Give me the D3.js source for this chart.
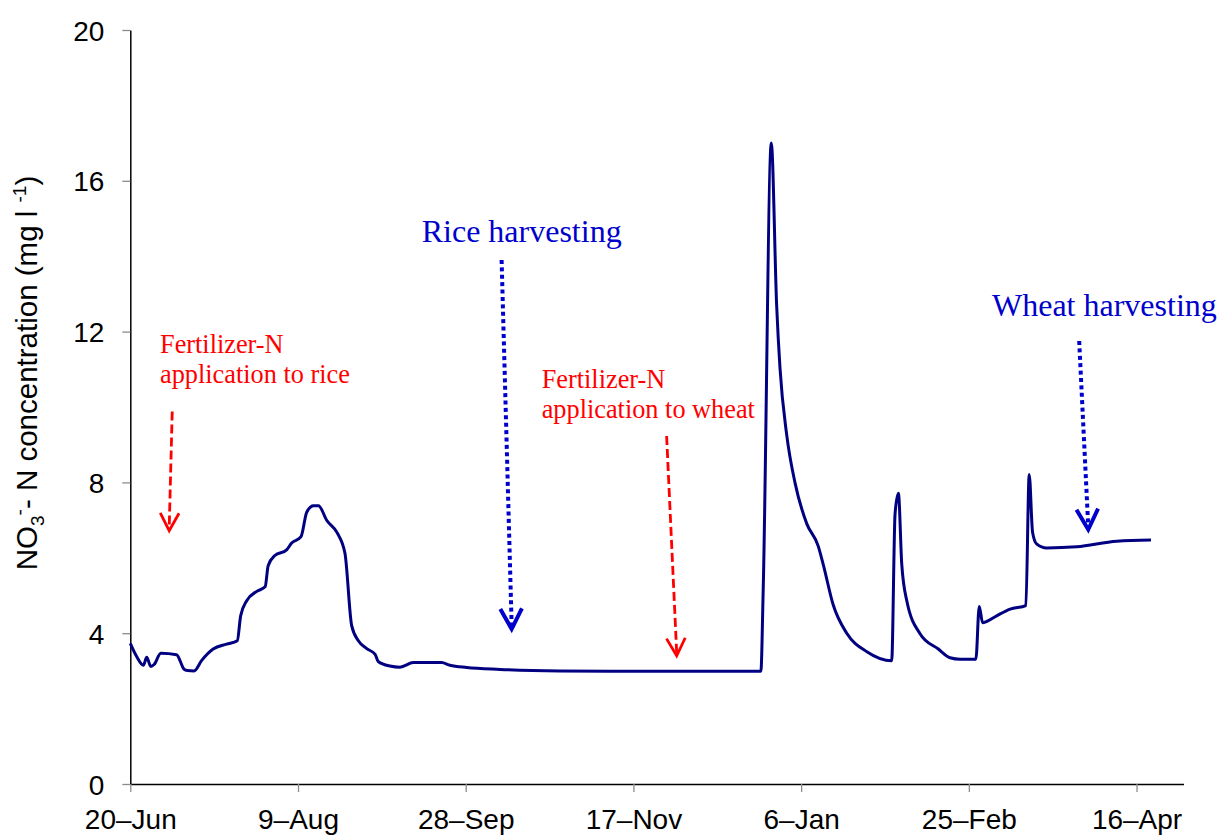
<!DOCTYPE html>
<html>
<head>
<meta charset="utf-8">
<script src="https://cdn.jsdelivr.net/npm/d3@7"></script>
<style>
  body { margin: 0; background: #fff; }
  svg { display: block; }
</style>
</head>
<body>
<svg id="chart" width="1218" height="835"></svg>
<script>
// Nitrate-N concentration in leachate over a rice–wheat season
const seasonStart = Date.UTC(2009, 5, 20);   // 20 June
const seasonEnd = Date.UTC(2010, 3, 30);     // end of April

// Days after 20 June for each observation
const dayOffsets = [
  0, 1.9, 3.9, 4.9, 6.1, 7.1, 9.1, 13.8, 16.0, 17.0, 19.0, 21.3, 24.7, 28.7, 31.9,
  32.9, 34.7, 37.7, 40.2, 41.1, 43.1, 46.6, 48.1, 50.9, 52.6, 54.6, 56.1, 58.6,
  61.7, 64.0, 66.0, 68.0, 70.5, 73.0, 73.9, 77.4, 80.4, 84.4, 92.8, 95.3, 100.3,
  110.2, 128.1, 149.9, 188.0, 188.7, 191.1, 192.7, 193.7, 195.7, 198.2, 201.7,
  205.1, 206.6, 209.6, 213.6, 219.6, 227.0, 228.0, 229.0, 230.0, 231.5, 235.5,
  240.9, 244.4, 247.4, 252.1, 253.1, 254.1, 255.3, 258.3, 262.3, 267.0, 268.0,
  269.0, 270.2, 273.2, 282.2, 294.1, 304.3
];

// NO3- - N concentration (mg l-1)
const no3N = [
  3.73, 3.38, 3.15, 3.36, 3.12, 3.17, 3.47, 3.43, 3.05, 3.01, 3.00, 3.28, 3.58, 3.71, 3.80,
  4.46, 4.86, 5.11, 5.23, 5.79, 6.06, 6.21, 6.39, 6.56, 7.21, 7.38, 7.38, 6.99,
  6.66, 6.12, 4.20, 3.80, 3.59, 3.44, 3.25, 3.13, 3.10, 3.22, 3.22, 3.15, 3.09,
  3.04, 3.00, 2.99, 2.99, 5.18, 17.0, 12.70, 11.03, 9.26, 7.98, 6.90,
  6.31, 5.82, 4.74, 4.00, 3.51, 3.27, 7.16, 7.71, 5.83, 4.86, 3.98,
  3.58, 3.35, 3.31, 3.31, 4.71, 4.28, 4.31, 4.46, 4.64, 4.73, 8.21,
  6.68, 6.37, 6.26, 6.29, 6.44, 6.47
];

const xTickOffsets = [0, 50, 100, 150, 200, 250, 300];
const xTickLabels = ["20\u2013Jun", "9\u2013Aug", "28\u2013Sep", "17\u2013Nov", "6\u2013Jan", "25\u2013Feb", "16\u2013Apr"];
const yTicks = [0, 4, 8, 12, 16, 20];

// Field operations: label lines, arrow top and tip as [day, concentration]
const eventLabels = [
  { lines: ["Fertilizer-N", "application to rice"], from: [12.5, 9.88], to: [11.6, 6.72], kind: "fert" },
  { lines: ["Rice harvesting"], from: [110.7, 13.9], to: [113.7, 4.11], kind: "harvest" },
  { lines: ["Fertilizer-N", "application to wheat"], from: [159.9, 9.23], to: [162.9, 3.40], kind: "fert" },
  { lines: ["Wheat harvesting"], from: [282.9, 11.75], to: [285.6, 6.75], kind: "harvest" }
];
const eventTextAnchors = [[160, 353, 30], [421.7, 241.7, 0], [541.7, 388.3, 30], [992, 316, 0]];

const DAY = 864e5;
const toDate = d => new Date(seasonStart + d * DAY);

const svg = d3.select("#chart");
const plot = { left: 130.3, right: 1183.5, top: 30, bottom: 784 };

const x = d3.scaleUtc()
  .domain([new Date(seasonStart), new Date(seasonEnd)])
  .range([plot.left, plot.right]);
const y = d3.scaleLinear().domain([0, 20]).range([plot.bottom, plot.top]);

const axisFont = "'Liberation Sans', Arial, sans-serif";
const noteFont = "'Liberation Serif', 'Times New Roman', serif";

// Y axis
const yAxis = svg.append("g")
  .attr("transform", `translate(${plot.left},0)`)
  .call(d3.axisLeft(y).tickValues(yTicks).tickSize(8).tickSizeOuter(0).tickPadding(18));
yAxis.select(".domain").attr("stroke", "#000").attr("stroke-width", 1.5);
yAxis.selectAll(".tick line").attr("stroke", "#8c8c8c").attr("stroke-width", 1.3);
yAxis.selectAll(".tick text")
  .attr("font-family", axisFont).attr("font-size", 28).attr("fill", "#000")
  .attr("dy", "0.36em");

// X axis
const xAxis = svg.append("g")
  .attr("transform", `translate(0,${plot.bottom})`)
  .call(d3.axisBottom(x)
    .tickValues(xTickOffsets.map(toDate))
    .tickFormat((d, i) => xTickLabels[i])
    .tickSize(8).tickSizeOuter(0).tickPadding(17));
xAxis.select(".domain").attr("stroke", "#000").attr("stroke-width", 1.5);
xAxis.selectAll(".tick line").attr("stroke", "#8c8c8c").attr("stroke-width", 1.3);
xAxis.selectAll(".tick text")
  .attr("font-family", axisFont).attr("font-size", 28).attr("fill", "#000")
  .attr("dy", "0.71em");

// Y axis title with sub/superscripts
const yTitle = svg.append("text")
  .attr("transform", "translate(37,373) rotate(-90)")
  .attr("text-anchor", "middle")
  .attr("font-family", axisFont).attr("font-size", 29.5).attr("fill", "#000");
yTitle.append("tspan").text("NO");
yTitle.append("tspan").attr("font-size", 19).attr("dy", 7).text("3");
yTitle.append("tspan").attr("font-size", 19).attr("dy", -18).text("-");
yTitle.append("tspan").attr("dy", 11).text("- N concentration (mg l ");
yTitle.append("tspan").attr("font-size", 19).attr("dy", -11).text("-1");
yTitle.append("tspan").attr("dy", 11).text(")");

// Concentration line
const series = dayOffsets.map((d, i) => ({ date: toDate(d), value: no3N[i] }));
svg.append("path")
  .datum(series)
  .attr("fill", "none")
  .attr("stroke", "#000080")
  .attr("stroke-width", 3)
  .attr("stroke-linejoin", "round")
  .attr("d", d3.line().x(d => x(d.date)).y(d => y(d.value)).curve(d3.curveMonotoneX));

// Event arrows and labels
const styles = {
  fert: { color: "#ff0000", dash: "9,4", width: 2.8, size: 26.3, head: 20 },
  harvest: { color: "#0000cc", dash: "4,3.4", width: 4, size: 32, head: 23 }
};
eventLabels.forEach((ev, i) => {
  const s = styles[ev.kind];
  const [tx, ty, lh] = eventTextAnchors[i];
  const t = svg.append("text")
    .attr("font-family", noteFont).attr("font-size", s.size).attr("fill", s.color);
  ev.lines.forEach((line, j) => {
    t.append("tspan").attr("x", tx).attr("y", ty + j * lh).text(line);
  });

  const x1 = x(toDate(ev.from[0])), y1 = y(ev.from[1]);
  const x2 = x(toDate(ev.to[0])), y2 = y(ev.to[1]);
  svg.append("line")
    .attr("x1", x1).attr("y1", y1).attr("x2", x2).attr("y2", y2 - 3)
    .attr("stroke", s.color).attr("stroke-width", s.width)
    .attr("stroke-dasharray", s.dash);
  const ang = Math.atan2(y2 - y1, x2 - x1);
  const spread = 28 * Math.PI / 180;
  const armPts = [ang + Math.PI - spread, ang + Math.PI + spread].map(a => [x2 + s.head * Math.cos(a), y2 + s.head * Math.sin(a)]);
  svg.append("path")
    .attr("d", `M${armPts[0][0]},${armPts[0][1]}L${x2},${y2}L${armPts[1][0]},${armPts[1][1]}`)
    .attr("fill", "none").attr("stroke", s.color).attr("stroke-width", s.width)
    .attr("stroke-linejoin", "miter");
});
</script>
</body>
</html>
